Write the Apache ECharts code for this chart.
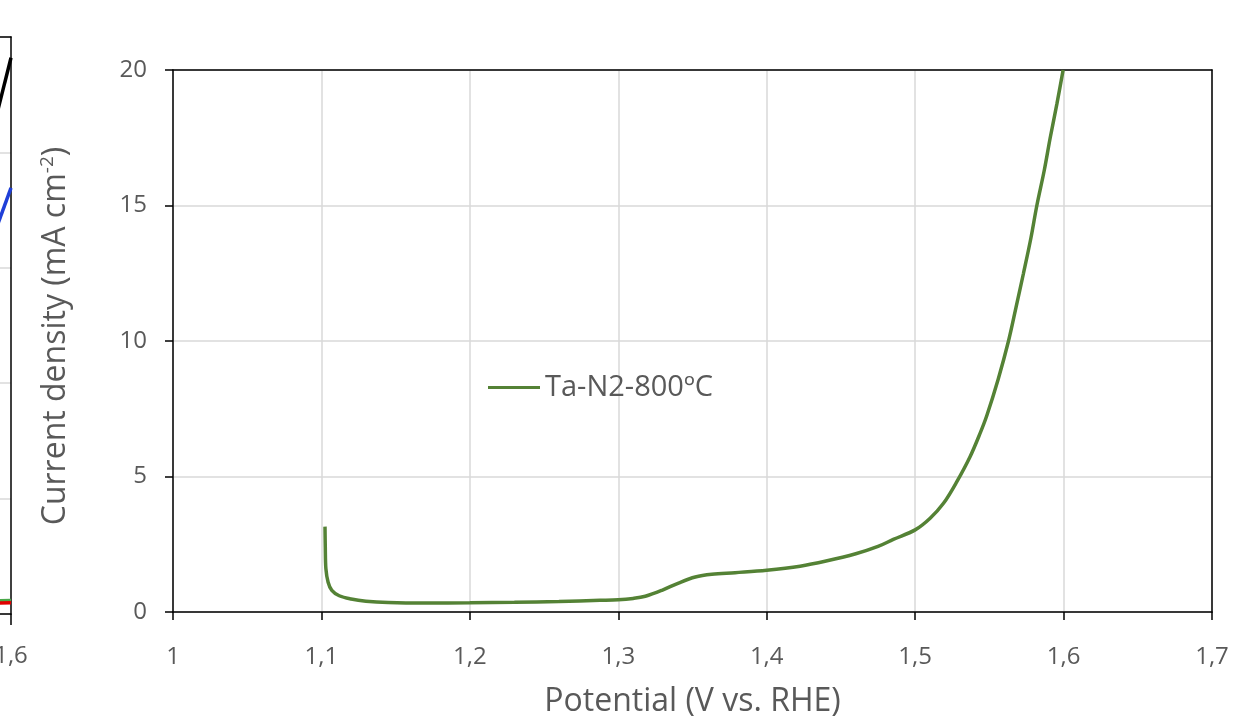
<!DOCTYPE html>
<html>
<head>
<meta charset="utf-8">
<script src="https://cdn.jsdelivr.net/npm/echarts@6/dist/echarts.min.js"></script>
<style>html,body{margin:0;padding:0;background:#fff;}#c{width:1248px;height:717px;}</style>
</head>
<body>
<div id="c"></div>
<script>
// Main chart data: potential (V vs. RHE) and current density (mA cm-2)
const seriesName = 'Ta-N2-800ºC';
const potential = [1.1024,1.1026,1.103,1.1045,1.107,1.112,1.12,1.13,1.145,1.17,1.2,1.23,1.26,1.2877,1.3,1.31,1.3182,1.3294,1.3406,1.3519,1.363,1.3787,1.4,1.4225,1.44,1.46,1.475,1.4853,1.5,1.5101,1.5191,1.5281,1.537,1.5438,1.5483,1.556,1.5629,1.568,1.573,1.578,1.582,1.587,1.591,1.5955,1.5997];
const current   = [3.15,2.4,1.6,1.1,0.8,0.6,0.48,0.4,0.35,0.33,0.34,0.36,0.39,0.43,0.45,0.5,0.58,0.8,1.07,1.29,1.39,1.45,1.54,1.69,1.88,2.15,2.42,2.68,3.03,3.46,4.01,4.81,5.73,6.6,7.25,8.6,10,11.25,12.5,13.8,15,16.3,17.5,18.75,20];
const xTicks = [1,1.1,1.2,1.3,1.4,1.5,1.6,1.7];
const yTicks = [0,5,10,15,20];

// Fragment of a neighbouring chart visible at the left edge
const fragX = [1.57, 1.6];
const fragBlack = [20.65, 24.1];
const fragBlue  = [16.08, 18.46];
const fragGreen = [0.56, 0.58];
const fragRed   = [0.47, 0.49];

const FONT = 'Open Sans';
const GRAY = '#595959';
const fmt = v => (Math.abs(v - Math.round(v)) < 1e-9 ? String(Math.round(v)) : v.toFixed(1)).replace('.', ',');
const pairs = (xs, ys) => xs.map((x, i) => [x, ys[i]]);
const BLACK_LINE = {color: '#000', width: 1.5};

const chart = echarts.init(document.getElementById('c'), null, {renderer: 'canvas'});
chart.setOption({
  animation: false,
  backgroundColor: '#fff',
  textStyle: {fontFamily: FONT},
  legend: {
    data: [seriesName],
    left: 483, top: 368,
    itemWidth: 52, itemHeight: 3, itemGap: 6,
    icon: 'rect',
    textStyle: {fontFamily: FONT, fontSize: 29, color: GRAY}
  },
  grid: [
    {left: 173, right: 36, top: 70, bottom: 105, outerBoundsMode: 'none', containLabel: false},
    {left: -389, width: 400, top: 37, bottom: 103, outerBoundsMode: 'none', containLabel: false}
  ],
  xAxis: [
    {
      gridIndex: 0, type: 'value', min: 1, max: 1.7, interval: 0.1,
      name: 'Potential (V vs. RHE)', nameLocation: 'middle', nameGap: 74,
      nameTextStyle: {fontFamily: FONT, fontSize: 32, color: GRAY},
      axisLine: {show: true, onZero: false, lineStyle: BLACK_LINE},
      axisTick: {show: true, length: 8, lineStyle: BLACK_LINE},
      axisLabel: {fontFamily: FONT, fontSize: 24, color: GRAY, margin: 33, formatter: fmt},
      splitLine: {show: true, lineStyle: {color: '#d9d9d9', width: 1.5}}
    },
    {
      gridIndex: 0, type: 'value', position: 'top', min: 1, max: 1.7, interval: 0.1,
      axisLine: {show: true, onZero: false, lineStyle: BLACK_LINE},
      axisTick: {show: false}, axisLabel: {show: false}, splitLine: {show: false}
    },
    {
      gridIndex: 1, type: 'value', min: 1, max: 1.6, interval: 0.1,
      axisLine: {show: true, onZero: false, lineStyle: BLACK_LINE},
      axisTick: {show: true, length: 11, lineStyle: BLACK_LINE},
      axisLabel: {fontFamily: FONT, fontSize: 24, color: GRAY, margin: 30, formatter: fmt},
      splitLine: {show: false}
    },
    {
      gridIndex: 1, type: 'value', position: 'top', min: 1, max: 1.6, interval: 0.1,
      axisLine: {show: true, onZero: false, lineStyle: BLACK_LINE},
      axisTick: {show: false}, axisLabel: {show: false}, splitLine: {show: false}
    }
  ],
  yAxis: [
    {
      gridIndex: 0, type: 'value', min: 0, max: 20, interval: 5,
      name: 'Current density (mA cm{sup|-2})', nameLocation: 'middle', nameGap: 100, nameRotate: 90,
      nameTextStyle: {fontFamily: FONT, fontSize: 32, color: GRAY, padding: [0, 0, 0, 10],
        rich: {sup: {fontFamily: FONT, fontSize: 19, color: GRAY, verticalAlign: 'top', padding: [0, 0, 16, 0]}}},
      axisLine: {show: true, lineStyle: BLACK_LINE},
      axisTick: {show: true, length: 8, lineStyle: BLACK_LINE},
      axisLabel: {fontFamily: FONT, fontSize: 24, color: GRAY, margin: 26},
      splitLine: {show: true, lineStyle: {color: '#d9d9d9', width: 1.5}}
    },
    {
      gridIndex: 0, type: 'value', position: 'right', min: 0, max: 20, interval: 5,
      axisLine: {show: true, lineStyle: BLACK_LINE},
      axisTick: {show: false}, axisLabel: {show: false}, splitLine: {show: false}
    },
    {
      gridIndex: 1, type: 'value', position: 'right', min: 0, max: 25, interval: 5,
      axisLine: {show: true, lineStyle: BLACK_LINE},
      axisTick: {show: false},
      axisLabel: {show: false},
      splitLine: {show: true, lineStyle: {color: '#d9d9d9', width: 1.5}}
    }
  ],
  series: [
    {
      name: seriesName, type: 'line', xAxisIndex: 0, yAxisIndex: 0,
      data: pairs(potential, current), smooth: 0.35, showSymbol: false, symbol: 'none',
      lineStyle: {color: '#548235', width: 3.5}, itemStyle: {color: '#548235'}, z: 5
    },
    {type: 'line', xAxisIndex: 2, yAxisIndex: 2, data: pairs(fragX, fragBlack), showSymbol: false, symbol: 'none', lineStyle: {color: '#000', width: 3.5}},
    {type: 'line', xAxisIndex: 2, yAxisIndex: 2, data: pairs(fragX, fragBlue), showSymbol: false, symbol: 'none', lineStyle: {color: '#1f3fd8', width: 3.5}},
    {type: 'line', xAxisIndex: 2, yAxisIndex: 2, data: pairs(fragX, fragGreen), showSymbol: false, symbol: 'none', lineStyle: {color: '#4aa84a', width: 3.5}},
    {type: 'line', xAxisIndex: 2, yAxisIndex: 2, data: pairs(fragX, fragRed), showSymbol: false, symbol: 'none', lineStyle: {color: '#e00000', width: 3.5}}
  ]
});
</script>
</body>
</html>
